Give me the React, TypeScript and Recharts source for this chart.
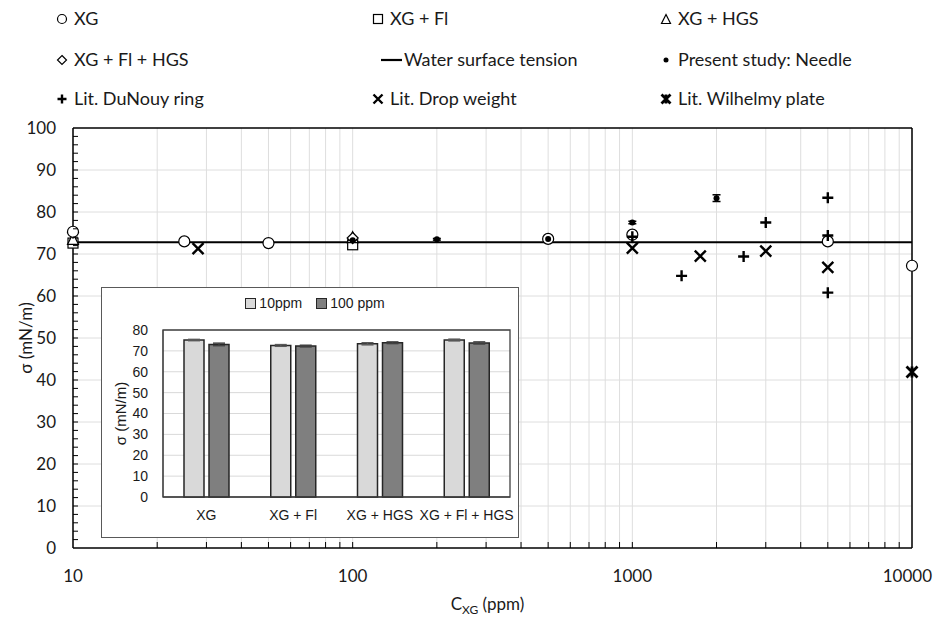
import React from 'react';
import {
  ComposedChart,
  Scatter,
  XAxis,
  YAxis,
  CartesianGrid,
  ReferenceLine,
  ReferenceArea,
  ErrorBar,
  BarChart,
  Bar,
  Label,
} from 'recharts';

// main plot: surface tension vs xanthan gum concentration
const xgConc = [10, 25, 50, 500, 1000, 5000, 10000];
const xgSigma = [75.3, 73.0, 72.6, 73.6, 74.6, 73.0, 67.2];
const xgFlConc = [10, 100];
const xgFlSigma = [72.6, 72.2];
const xgHgsConc = [10, 100];
const xgHgsSigma = [73.6, 74.0];
const xgFlHgsConc = [10, 100];
const xgFlHgsSigma = [75.1, 73.8];
const needleConc = [100, 200, 500, 1000, 2000];
const needleSigma = [73.3, 73.5, 73.6, 77.5, 83.3];
const needleErr = [0.3, 0.2, 0.3, 0.3, 0.8];
const ringConc = [1000, 1500, 2500, 3000, 5000, 5000, 5000];
const ringSigma = [74.1, 64.8, 69.4, 77.5, 83.4, 74.4, 60.8];
const dropConc = [28, 1000, 1750, 3000, 5000];
const dropSigma = [71.3, 71.4, 69.5, 70.7, 66.8];
const plateConc = [10000];
const plateSigma = [41.9];
const waterSigma = 72.8;

const xMajorTicks = [10, 100, 1000, 10000];
const xMinorSteps = [1, 2, 3, 4, 5, 6, 7, 8, 9];
const yTickLabels = [0, 10, 20, 30, 40, 50, 60, 70, 80, 90, 100];
const yGridValues = [10, 20, 30, 40, 50, 60, 70, 80, 90];

// inset bar chart
const insetGroups = ['XG', 'XG + Fl', 'XG + HGS', 'XG + Fl + HGS'];
const inset10 = [75.2, 72.6, 73.4, 75.2];
const inset100 = [73.1, 72.3, 73.9, 73.8];
const inset10Err = [0.3, 0.4, 0.5, 0.4];
const inset100Err = [0.6, 0.4, 0.4, 0.5];
const insetYTicks = [0, 10, 20, 30, 40, 50, 60, 70, 80];

const FONT = 'Lato, "Open Sans", sans-serif';
const INSET_FONT = '"Liberation Sans", Arial, sans-serif';
const INK = '#1a1a1a';

const xTicks = xMajorTicks
  .slice(0, -1)
  .flatMap((d) => xMinorSteps.map((m) => m * d))
  .concat([10000]);
const yTicks = Array.from({ length: 51 }, (_, i) => i * 2);

const pts = (xs: number[], ys: number[], errs?: number[]) =>
  xs.map((x, i) => ({ x, y: ys[i], err: errs ? errs[i] : 0 }));

type MP = { cx?: number; cy?: number; s?: number };

const RingMark = ({ cx = 0, cy = 0, s = 11 }: MP) => (
  <circle cx={cx} cy={cy} r={s / 2} fill="#fff" stroke="#000" strokeWidth={1.2} />
);
const SquareMark = ({ cx = 0, cy = 0, s = 10 }: MP) => (
  <rect x={cx - s / 2} y={cy - s / 2} width={s} height={s} fill="#fff" stroke="#000" strokeWidth={1.2} />
);
const TriMark = ({ cx = 0, cy = 0, s = 11 }: MP) => (
  <polygon
    points={`${cx},${cy - s / 2} ${cx + s / 2},${cy + s / 2} ${cx - s / 2},${cy + s / 2}`}
    fill="#fff"
    stroke="#000"
    strokeWidth={1.2}
  />
);
const DiamondMark = ({ cx = 0, cy = 0, s = 11 }: MP) => (
  <polygon
    points={`${cx},${cy - s / 2} ${cx + s / 2},${cy} ${cx},${cy + s / 2} ${cx - s / 2},${cy}`}
    fill="#fff"
    stroke="#000"
    strokeWidth={1.2}
  />
);
const DotMark = ({ cx = 0, cy = 0, s = 6 }: MP) => <circle cx={cx} cy={cy} r={s / 2} fill="#000" />;
const PlusMark = ({ cx = 0, cy = 0, s = 11 }: MP) => (
  <path
    d={`M${cx - s / 2},${cy}H${cx + s / 2}M${cx},${cy - s / 2}V${cy + s / 2}`}
    stroke="#000"
    strokeWidth={2.4}
  />
);
const CrossMark = ({ cx = 0, cy = 0, s = 11 }: MP) => (
  <path
    d={`M${cx - s / 2},${cy - s / 2}L${cx + s / 2},${cy + s / 2}M${cx + s / 2},${cy - s / 2}L${cx - s / 2},${cy + s / 2}`}
    stroke="#000"
    strokeWidth={2.4}
  />
);
const StarMark = ({ cx = 0, cy = 0, s = 11 }: MP) => (
  <path
    d={`M${cx - s / 2},${cy - s / 2}L${cx + s / 2},${cy + s / 2}M${cx + s / 2},${cy - s / 2}L${cx - s / 2},${cy + s / 2}M${cx},${cy - s / 2}V${cy + s / 2}`}
    stroke="#000"
    strokeWidth={2.8}
  />
);

const MainXTick = (props: any) => {
  const { x, y, payload } = props;
  const v = payload.value;
  const last = v === 10000;
  return (
    <g>
      {v !== 10 && !last && <line x1={x} x2={x} y1={y} y2={y - 6} stroke="#000" strokeWidth={1} />}
      {xMajorTicks.includes(v) && (
        <text
          x={last ? x + 20 : x}
          y={y + 34}
          textAnchor={last ? 'end' : 'middle'}
          fontSize={17}
          fontFamily={FONT}
          fill={INK}
        >
          {v}
        </text>
      )}
    </g>
  );
};

const MainYTick = (props: any) => {
  const { x, y, payload } = props;
  const v = payload.value;
  return (
    <g>
      {v > 0 && v < 100 && <line x1={x} x2={x + 5} y1={y} y2={y} stroke="#000" strokeWidth={1} />}
      {yTickLabels.includes(v) && (
        <text x={x - 17} y={y} dy="0.35em" textAnchor="end" fontSize={17} fontFamily={FONT} fill={INK}>
          {v}
        </text>
      )}
    </g>
  );
};

const legendItems = [
  { label: 'XG', Mark: RingMark, col: 0, row: 0 },
  { label: 'XG + Fl', Mark: SquareMark, col: 1, row: 0 },
  { label: 'XG + HGS', Mark: TriMark, col: 2, row: 0 },
  { label: 'XG + Fl + HGS', Mark: DiamondMark, col: 0, row: 1 },
  { label: 'Water surface tension', Mark: null, col: 1, row: 1 },
  { label: 'Present study: Needle', Mark: DotMark, col: 2, row: 1 },
  { label: 'Lit. DuNouy ring', Mark: PlusMark, col: 0, row: 2 },
  { label: 'Lit. Drop weight', Mark: CrossMark, col: 1, row: 2 },
  { label: 'Lit. Wilhelmy plate', Mark: StarMark, col: 2, row: 2 },
];
const legendCols = [62, 378, 666];
const legendRows = [19, 60, 99];

const MainLegend = () => (
  <svg width={935} height={120} style={{ position: 'absolute', left: 0, top: 0 }}>
    {legendItems.map((it) => {
      const mx = legendCols[it.col];
      const my = legendRows[it.row];
      const M = it.Mark;
      return (
        <g key={it.label}>
          {M ? (
            <M cx={mx} cy={my} s={M === DotMark ? 5 : 9} />
          ) : (
            <line x1={mx + 3} x2={mx + 24} y1={my} y2={my} stroke="#000" strokeWidth={2.2} />
          )}
          <text
            x={M ? mx + 12 : mx + 26}
            y={my}
            dy="0.35em"
            fontSize={18}
            fontFamily={FONT}
            fill={INK}
          >
            {it.label}
          </text>
        </g>
      );
    })}
  </svg>
);

const insetData = insetGroups.map((g, i) => ({
  group: g,
  c10: inset10[i],
  c100: inset100[i],
  e10: inset10Err[i],
  e100: inset100Err[i],
}));

const Inset = () => (
  <div
    style={{
      position: 'absolute',
      left: 101,
      top: 287,
      width: 418,
      height: 251,
      boxSizing: 'border-box',
      border: '1px solid #595959',
      background: '#fff',
    }}
  >
    <div
      style={{
        position: 'absolute',
        top: 7,
        left: 0,
        width: 416,
        display: 'flex',
        justifyContent: 'center',
        gap: 14,
        fontFamily: INSET_FONT,
        fontSize: 14,
        color: INK,
        paddingLeft: 10,
        boxSizing: 'border-box',
      }}
    >
      {[
        { label: '10ppm', fill: '#d9d9d9' },
        { label: '100 ppm', fill: '#7f7f7f' },
      ].map((it) => (
        <span key={it.label} style={{ display: 'flex', alignItems: 'center', gap: 3 }}>
          <span
            style={{
              display: 'inline-block',
              width: 9,
              height: 9,
              background: it.fill,
              border: '1px solid #262626',
            }}
          />
          {it.label}
        </span>
      ))}
    </div>
    <BarChart
      width={416}
      height={249}
      data={insetData}
      margin={{ top: 42, right: 8, bottom: 0, left: 0 }}
      barSize={20}
      barGap={5}
    >
      <CartesianGrid vertical={false} stroke="#d9d9d9" />
      <XAxis
        dataKey="group"
        height={40}
        tickLine={false}
        tickSize={0}
        tickMargin={13}
        axisLine={{ stroke: '#404040' }}
        interval={0}
        tick={{ fontSize: 14, fill: INK, fontFamily: INSET_FONT }}
      />
      <YAxis
        width={61}
        domain={[0, 80]}
        ticks={insetYTicks}
        interval={0}
        tickLine={false}
        tickSize={0}
        tickMargin={15}
        axisLine={{ stroke: '#404040' }}
        tick={{ fontSize: 14, fill: INK, fontFamily: INSET_FONT }}
      >
        <Label
          content={(p: any) => {
            const vb = p.viewBox || { x: 0, y: 0, width: 0, height: 0 };
            const cx = 19;
            const cy = vb.y + vb.height / 2;
            return (
              <text
                x={cx}
                y={cy}
                transform={`rotate(-90 ${cx} ${cy})`}
                textAnchor="middle"
                dy="0.35em"
                fontSize={15}
                fontFamily={INSET_FONT}
                fill={INK}
              >
                σ (mN/m)
              </text>
            );
          }}
        />
      </YAxis>
      <ReferenceArea y1={0} y2={80} fill="none" stroke="#404040" strokeWidth={1.3} />
      <Bar dataKey="c10" fill="#d9d9d9" stroke="#262626" strokeWidth={1.5} isAnimationActive={false}>
        <ErrorBar dataKey="e10" width={6} stroke="#595959" />
      </Bar>
      <Bar dataKey="c100" fill="#7f7f7f" stroke="#262626" strokeWidth={1.5} isAnimationActive={false}>
        <ErrorBar dataKey="e100" width={6} stroke="#404040" />
      </Bar>
    </BarChart>
  </div>
);

export default function App() {
  return (
    <div style={{ position: 'absolute', left: 0, top: 0, width: 935, height: 621, background: '#fff' }}>
      <ComposedChart width={935} height={621} margin={{ top: 128, right: 23, bottom: 0, left: 0 }}>
        <CartesianGrid horizontalValues={yGridValues} stroke="#dedede" />
        <XAxis
          dataKey="x"
          type="number"
          scale="log"
          domain={[10, 10000]}
          ticks={xTicks}
          interval={0}
          tickSize={0}
          tickMargin={0}
          tickLine={false}
          tick={<MainXTick />}
          axisLine={{ stroke: '#000', strokeWidth: 1.5 }}
          height={73}
        >
          <Label
            content={(p: any) => {
              const vb = p.viewBox || { x: 0, y: 0, width: 0, height: 0 };
              return (
                <text x={vb.x + vb.width / 2 - 5} y={610} textAnchor="middle" fontSize={17} fontFamily={FONT} fill={INK}>
                  C
                  <tspan fontSize={12} dy={4}>
                    XG
                  </tspan>
                  <tspan dy={-4}> (ppm)</tspan>
                </text>
              );
            }}
          />
        </XAxis>
        <YAxis
          dataKey="y"
          type="number"
          domain={[0, 100]}
          ticks={yTicks}
          interval={0}
          tickSize={0}
          tickMargin={0}
          tickLine={false}
          tick={<MainYTick />}
          axisLine={{ stroke: '#000', strokeWidth: 1.5 }}
          width={73}
        >
          <Label
            content={(p: any) => {
              const vb = p.viewBox || { x: 0, y: 0, width: 0, height: 0 };
              const cx = 26;
              const cy = vb.y + vb.height / 2;
              return (
                <text
                  x={cx}
                  y={cy}
                  transform={`rotate(-90 ${cx} ${cy})`}
                  textAnchor="middle"
                  dy="0.35em"
                  fontSize={17}
                  fontFamily={FONT}
                  fill={INK}
                >
                  σ (mN/m)
                </text>
              );
            }}
          />
        </YAxis>
        <ReferenceLine y={100} stroke="#000" strokeWidth={1.5} />
        <ReferenceLine x={10000} stroke="#000" strokeWidth={1.5} />
        <ReferenceLine y={waterSigma} stroke="#000" strokeWidth={2} />
        <Scatter name="XG + Fl" data={pts(xgFlConc, xgFlSigma)} dataKey="y" isAnimationActive={false}
          shape={(p: any) => <SquareMark cx={p.cx} cy={p.cy} />} />
        <Scatter name="XG + HGS" data={pts(xgHgsConc, xgHgsSigma)} dataKey="y" isAnimationActive={false}
          shape={(p: any) => <TriMark cx={p.cx} cy={p.cy} />} />
        <Scatter name="XG + Fl + HGS" data={pts(xgFlHgsConc, xgFlHgsSigma)} dataKey="y" isAnimationActive={false}
          shape={(p: any) => <DiamondMark cx={p.cx} cy={p.cy} />} />
        <Scatter name="XG" data={pts(xgConc, xgSigma)} dataKey="y" isAnimationActive={false}
          shape={(p: any) => <RingMark cx={p.cx} cy={p.cy} />} />
        <Scatter name="Present study: Needle" data={pts(needleConc, needleSigma, needleErr)} dataKey="y"
          isAnimationActive={false} shape={(p: any) => <DotMark cx={p.cx} cy={p.cy} />}>
          <ErrorBar dataKey="err" direction="y" width={4} stroke="#000" strokeWidth={1.5} />
        </Scatter>
        <Scatter name="Lit. DuNouy ring" data={pts(ringConc, ringSigma)} dataKey="y" isAnimationActive={false}
          shape={(p: any) => <PlusMark cx={p.cx} cy={p.cy} />} />
        <Scatter name="Lit. Drop weight" data={pts(dropConc, dropSigma)} dataKey="y" isAnimationActive={false}
          shape={(p: any) => <CrossMark cx={p.cx} cy={p.cy} />} />
        <Scatter name="Lit. Wilhelmy plate" data={pts(plateConc, plateSigma)} dataKey="y" isAnimationActive={false}
          shape={(p: any) => <StarMark cx={p.cx} cy={p.cy} />} />
      </ComposedChart>
      <MainLegend />
      <Inset />
    </div>
  );
}
